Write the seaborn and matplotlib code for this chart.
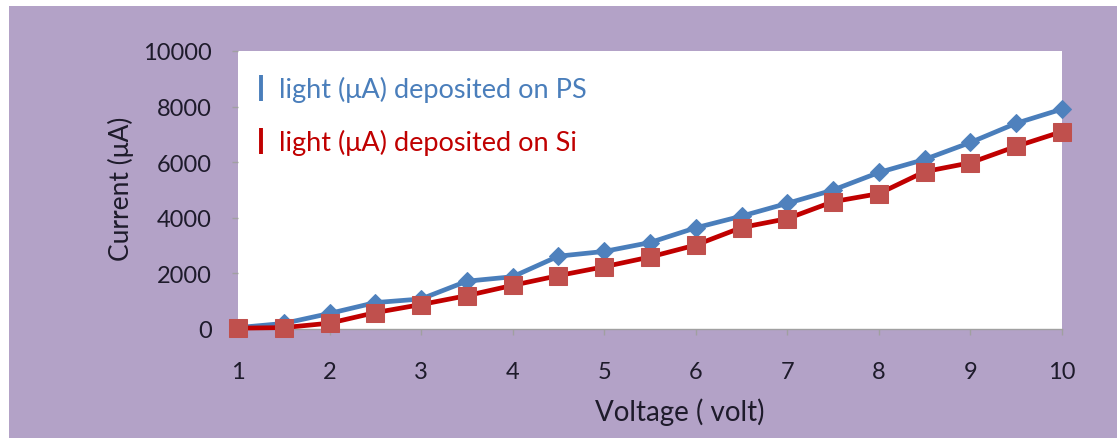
import numpy as np
import pandas as pd
import matplotlib
matplotlib.use("Agg")
import matplotlib.pyplot as plt
from matplotlib.patches import Rectangle
from matplotlib.lines import Line2D
import seaborn as sns

# ---- data ----
voltage = [1, 1.5, 2, 2.5, 3, 3.5, 4, 4.5, 5, 5.5, 6, 6.5, 7, 7.5, 8, 8.5, 9, 9.5, 10]
current_ps = [50, 200, 560, 950, 1080, 1720, 1880, 2620, 2790, 3110, 3640, 4060, 4520, 5000, 5630, 6100, 6710, 7400, 7910]
current_si = [30, 50, 210, 590, 880, 1200, 1570, 1920, 2240, 2590, 3020, 3650, 3970, 4580, 4870, 5660, 5980, 6570, 7100]
series_labels = ["light (\u03bcA) deposited on PS", "light (\u03bcA) deposited on Si"]
x_ticks = [1, 2, 3, 4, 5, 6, 7, 8, 9, 10]
y_ticks = [0, 2000, 4000, 6000, 8000, 10000]

sns.set_theme(style="white")
plt.rcParams['font.family'] = ['Lato', 'DejaVu Sans']

BG = '#B3A2C7'
TXT = '#1E1B2B'
BLUE_L, BLUE_M = '#4A7EBB', '#4F81BD'
RED_L, RED_M = '#C00000', '#C0504D'

fig = plt.figure(figsize=(11.17, 4.39), dpi=100)
fig.patch.set_facecolor('white')
bg = Rectangle((9/1117, 0), 1 - 9/1117, 1 - 7/439, transform=fig.transFigure,
               facecolor=BG, edgecolor='none', zorder=-10)
fig.patches.append(bg)

ax = fig.add_axes([238/1117, 1 - 330/439, 824/1117, 278/439])
ax.set_zorder(1)
ax.set_facecolor('white')

df_ps = pd.DataFrame({'Voltage': voltage, 'Current': current_ps})
df_si = pd.DataFrame({'Voltage': voltage, 'Current': current_si})

sns.lineplot(data=df_ps, x='Voltage', y='Current', ax=ax, color=BLUE_L, linewidth=3.4,
             marker='D', markersize=9, markerfacecolor=BLUE_M, markeredgecolor=BLUE_M,
             clip_on=False, zorder=3)
sns.lineplot(data=df_si, x='Voltage', y='Current', ax=ax, color=RED_L, linewidth=3.4,
             marker='s', markersize=13.5, markerfacecolor=RED_M, markeredgecolor=RED_M,
             clip_on=False, zorder=4)

ax.set_xlim(1, 10)
ax.set_ylim(0, 10000)
ax.set_xticks(x_ticks)
ax.set_xticklabels([str(v) for v in x_ticks])
ax.set_yticks(y_ticks)
ax.set_yticklabels([str(v) for v in y_ticks])

for s in ['top', 'right', 'left']:
    ax.spines[s].set_visible(False)
ax.spines['bottom'].set_color('#A0A0A0')
ax.spines['bottom'].set_linewidth(1.0)

ax.tick_params(axis='y', which='major', left=True, length=4, width=1, color='#A0A0A0',
               pad=15, labelsize=17, labelcolor=TXT)
ax.tick_params(axis='x', which='major', bottom=True, length=4, width=1, color='#A0A0A0',
               pad=19, labelsize=17, labelcolor=TXT)
ax.grid(False)

ax.set_xlabel('Voltage ( volt)', fontsize=20, color=TXT)
ax.xaxis.set_label_coords((680 - 238) / 824, -(412 - 330) / 278)
ax.xaxis.label.set_va('center')
ax.set_ylabel('Current (\u03bcA)', fontsize=19, color=TXT)
ax.yaxis.set_label_coords(-(238 - 121) / 824, (330 - 189) / 278)
ax.yaxis.label.set_va('center')

handles = [Line2D([], [], marker='|', linestyle='none', color=BLUE_L, markersize=19, markeredgewidth=2.8),
           Line2D([], [], marker='|', linestyle='none', color=RED_L, markersize=19, markeredgewidth=2.8)]
leg = ax.legend(handles, series_labels, loc='upper left', bbox_to_anchor=(0.02, 0.91),
                frameon=False, fontsize=19.5, labelspacing=1.0, handlelength=0.5,
                handletextpad=0.4, borderpad=0, borderaxespad=0)
for t, c in zip(leg.get_texts(), [BLUE_L, RED_L]):
    t.set_color(c)

fig.savefig('out.png', dpi=100, facecolor=fig.get_facecolor())
